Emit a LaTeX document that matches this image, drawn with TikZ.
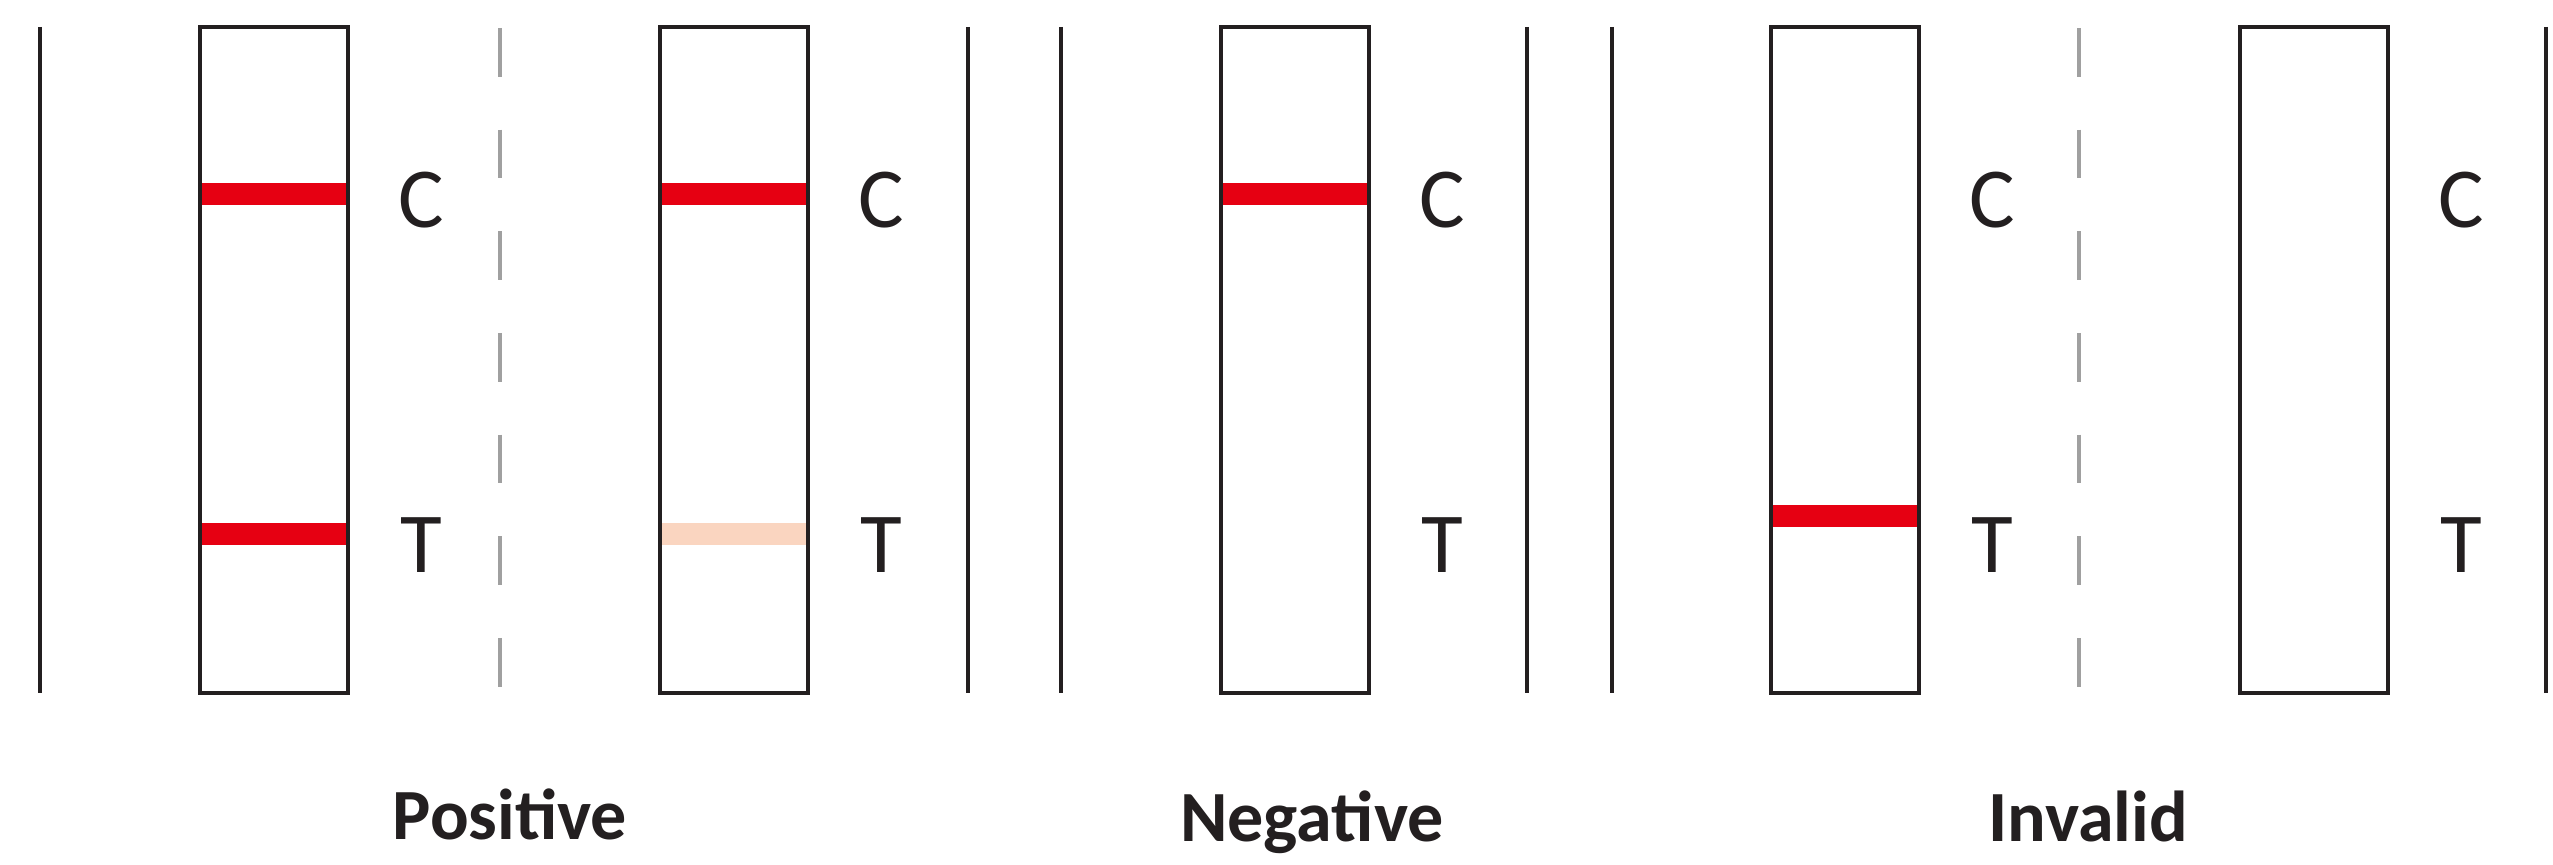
\documentclass[tikz,border=0pt]{standalone}
\usepackage{xcolor}
\usepackage{fontspec}
\setmainfont{Carlito}
\usepackage{tikz}
\usetikzlibrary{positioning}

\definecolor{ink}{HTML}{231F20}
\definecolor{bandred}{HTML}{E60012}
\definecolor{bandfaint}{HTML}{FAD5C0}
\definecolor{dashgray}{HTML}{A0A0A0}

\begin{document}
\begin{tikzpicture}
	[
		x=0.01cm, y=-0.01cm,
		strip/.style={draw=ink, line width=1.4pt},
		divider/.style={draw=ink, line width=1.15pt},
		halfdivider/.style={draw=dashgray, line width=1.15pt, dash pattern=on 13.9pt off 15pt},
		band/.style={line width=0.22cm},
		letterlabel/.style={font=\fontsize{24.3}{29}\selectfont, text=ink, inner sep=0pt},
		result/.style={font=\bfseries\fontsize{20.5}{24}\selectfont, text=ink, inner sep=0pt, anchor=base}
	]
		\useasboundingbox (0,0) rectangle (2553,865);

		% separators
		\foreach \lx in {40, 968, 1061, 1527, 1612, 2546}
			\draw[divider] (\lx,27) -- (\lx,693);
		\foreach \lx in {500, 2079}
			\draw[halfdivider] (\lx,28) -- (\lx,690);

		% coloured lines
		\draw[band, bandred] (200,194) -- (348,194);
		\draw[band, bandred] (200,534) -- (348,534);
		\draw[band, bandred] (660,194) -- (808,194);
		\draw[band, bandfaint] (660,534) -- (808,534);
		\draw[band, bandred] (1221,194) -- (1369,194);
		\draw[band, bandred] (1771,516) -- (1919,516);

		% strips with their C and T labels
		\foreach \sx/\sn in {200/pos1, 660/pos2, 1221/neg, 1771/inv1, 2240/inv2}
		{
			\draw[strip] (\sx,27) rectangle (\sx+148,693);
			\node[letterlabel] (c-\sn) at (\sx+221,200) {C};
			\node[letterlabel] (t-\sn) at (\sx+221,545) {T};
		}

		% results
		\node[result] (positive) at (510,840) {Positive};
		\node[result] (negative) at (1312,842) {Negative};
		\node[result] (invalid) at (2088,842) {Invalid};
\end{tikzpicture}
\end{document}
